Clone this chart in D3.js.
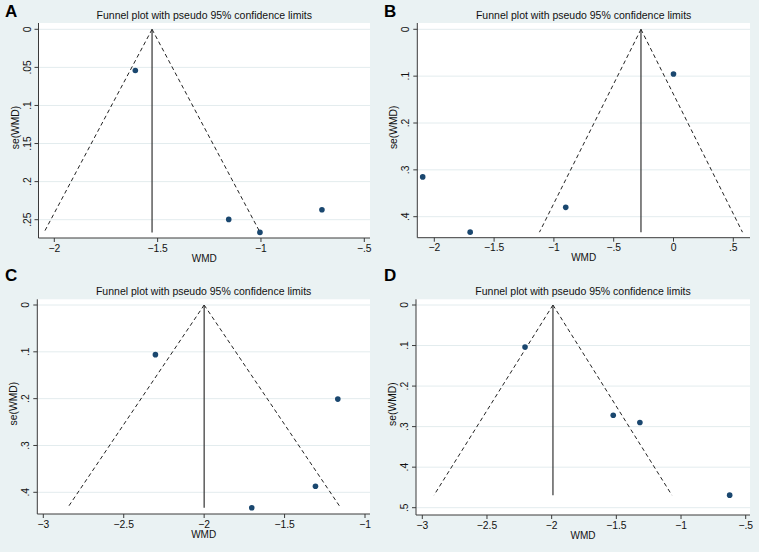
<!DOCTYPE html>
<html>
<head>
<meta charset="utf-8">
<script src="https://cdn.jsdelivr.net/npm/d3@7"></script>
<style>
  html, body { margin: 0; padding: 0; background: #EAF2F3; }
  svg { display: block; font-family: "Liberation Sans", Arial, sans-serif; }
</style>
</head>
<body>
<svg id="chart" width="759" height="552"></svg>
<script>
// ---- data ----
const panelLabels = ["A", "B", "C", "D"];
const chartTitle = "Funnel plot with pseudo 95% confidence limits";
const xTitle = "WMD";
const yTitle = "se(WMD)";

const wmdA = [-1.608, -1.156, -1.005, -0.705];
const seA  = [0.054, 0.2496, 0.2667, 0.237];
const pooledA = -1.527;

const wmdB = [-2.097, -1.70, -0.901, 0.0];
const seB  = [0.315, 0.433, 0.380, 0.0954];
const pooledB = -0.272;

const wmdC = [-2.303, -1.169, -1.308, -1.704];
const seC  = [0.106, 0.201, 0.387, 0.433];
const pooledC = -2.0;

const wmdD = [-2.206, -1.524, -1.318, -0.624];
const seD  = [0.1036, 0.272, 0.290, 0.469];
const pooledD = -1.99;

const xTicksA = [-2, -1.5, -1, -0.5];
const yTicksA = [0, 0.05, 0.1, 0.15, 0.2, 0.25];
const xTicksB = [-2, -1.5, -1, -0.5, 0, 0.5];
const yTicksB = [0, 0.1, 0.2, 0.3, 0.4];
const xTicksC = [-3, -2.5, -2, -1.5, -1];
const yTicksC = [0, 0.1, 0.2, 0.3, 0.4];
const xTicksD = [-3, -2.5, -2, -1.5, -1, -0.5];
const yTicksD = [0, 0.1, 0.2, 0.3, 0.4, 0.5];

// ---- layout (pixels) ----
const layouts = [
  { rect: [38.5, 370, 23, 238],    xr: [54.3, 364.3],  yr: [29.3, 219.7], lab: [5, 17] },
  { rect: [417.3, 750, 23, 237.7], xr: [434.3, 733.3], yr: [29.3, 216.7], lab: [384, 17] },
  { rect: [37.3, 370, 299.3, 514], xr: [43.3, 365],    yr: [305, 492.3],  lab: [5, 281] },
  { rect: [416, 750, 299.3, 515],  xr: [422.3, 745.7], yr: [305, 507.7],  lab: [384, 281] }
];

const panels = [
  { label: panelLabels[0], wmd: wmdA, se: seA, pooled: pooledA, xt: xTicksA, yt: yTicksA },
  { label: panelLabels[1], wmd: wmdB, se: seB, pooled: pooledB, xt: xTicksB, yt: yTicksB },
  { label: panelLabels[2], wmd: wmdC, se: seC, pooled: pooledC, xt: xTicksC, yt: yTicksC },
  { label: panelLabels[3], wmd: wmdD, se: seD, pooled: pooledD, xt: xTicksD, yt: yTicksD }
];

function fmt(v) {
  if (v === 0) return "0";
  let s = String(Math.abs(v));
  if (s.startsWith("0.")) s = s.slice(1);
  return (v < 0 ? "\u2212" : "") + s;
}

const svg = d3.select("#chart");
svg.append("rect").attr("width", 759).attr("height", 552).attr("fill", "#EAF2F3");

panels.forEach((p, i) => {
  const L = layouts[i];
  const [x0, x1, y0, y1] = L.rect;
  const x = d3.scaleLinear().domain([p.xt[0], p.xt[p.xt.length - 1]]).range(L.xr);
  const y = d3.scaleLinear().domain([p.yt[0], p.yt[p.yt.length - 1]]).range(L.yr);
  const g = svg.append("g");

  // plot region
  g.append("rect").attr("x", x0).attr("y", y0).attr("width", x1 - x0).attr("height", y1 - y0)
    .attr("fill", "#ffffff");

  // gridlines
  g.selectAll(".grid").data(p.yt).enter().append("line")
    .attr("x1", x0).attr("x2", x1)
    .attr("y1", d => y(d)).attr("y2", d => y(d))
    .attr("stroke", "#E3ECEE").attr("stroke-width", 1);

  // axes lines
  g.append("line").attr("x1", x0).attr("x2", x0).attr("y1", y0).attr("y2", y1)
    .attr("stroke", "#3a3a3a").attr("stroke-width", 1);
  g.append("line").attr("x1", x0).attr("x2", x1).attr("y1", y1).attr("y2", y1)
    .attr("stroke", "#3a3a3a").attr("stroke-width", 1);

  // y ticks
  g.selectAll(".yt").data(p.yt).enter().append("line")
    .attr("x1", x0 - 4).attr("x2", x0)
    .attr("y1", d => y(d)).attr("y2", d => y(d))
    .attr("stroke", "#3a3a3a").attr("stroke-width", 1);
  g.selectAll(".ytl").data(p.yt).enter().append("text")
    .attr("transform", d => `translate(${x0 - 8},${y(d)}) rotate(-90)`)
    .attr("text-anchor", "middle")
    .attr("font-size", 10.3).attr("fill", "#111")
    .text(d => fmt(d));

  // x ticks
  g.selectAll(".xt").data(p.xt).enter().append("line")
    .attr("x1", d => x(d)).attr("x2", d => x(d))
    .attr("y1", y1).attr("y2", y1 + 4)
    .attr("stroke", "#3a3a3a").attr("stroke-width", 1);
  g.selectAll(".xtl").data(p.xt).enter().append("text")
    .attr("x", d => x(d)).attr("y", y1 + 13.5)
    .attr("text-anchor", "middle")
    .attr("font-size", 10.3).attr("fill", "#111")
    .text(d => fmt(d));

  // axis titles
  g.append("text").attr("x", (x0 + x1) / 2).attr("y", y1 + 23.5)
    .attr("text-anchor", "middle").attr("font-size", 10).attr("fill", "#111").text(xTitle);
  g.append("text")
    .attr("transform", `translate(${x0 - 20},${(y0 + y1) / 2 - 3}) rotate(-90)`)
    .attr("text-anchor", "middle").attr("font-size", 10.3).attr("fill", "#111").text(yTitle);

  // chart title
  g.append("text").attr("x", (x0 + x1) / 2).attr("y", y0 - 4)
    .attr("text-anchor", "middle").attr("font-size", 10.5).attr("fill", "#111").text(chartTitle);

  // panel label
  g.append("text").attr("x", L.lab[0]).attr("y", L.lab[1])
    .attr("font-size", 17).attr("font-weight", "bold").attr("fill", "#000").text(p.label);

  // funnel
  const seMax = d3.max(p.se);
  const half = 1.96 * seMax;
  g.append("line")
    .attr("x1", x(p.pooled)).attr("y1", y(0))
    .attr("x2", x(p.pooled - half)).attr("y2", y(seMax))
    .attr("stroke", "#222").attr("stroke-width", 1).attr("stroke-dasharray", "4,3");
  g.append("line")
    .attr("x1", x(p.pooled)).attr("y1", y(0))
    .attr("x2", x(p.pooled + half)).attr("y2", y(seMax))
    .attr("stroke", "#222").attr("stroke-width", 1).attr("stroke-dasharray", "4,3");
  g.append("line")
    .attr("x1", x(p.pooled)).attr("y1", y(0))
    .attr("x2", x(p.pooled)).attr("y2", y(seMax))
    .attr("stroke", "#333").attr("stroke-width", 1.2);

  // points
  g.selectAll(".pt").data(p.wmd.map((w, k) => [w, p.se[k]])).enter().append("circle")
    .attr("cx", d => x(d[0])).attr("cy", d => y(d[1])).attr("r", 2.8)
    .attr("fill", "#1A476F");
});
</script>
</body>
</html>
